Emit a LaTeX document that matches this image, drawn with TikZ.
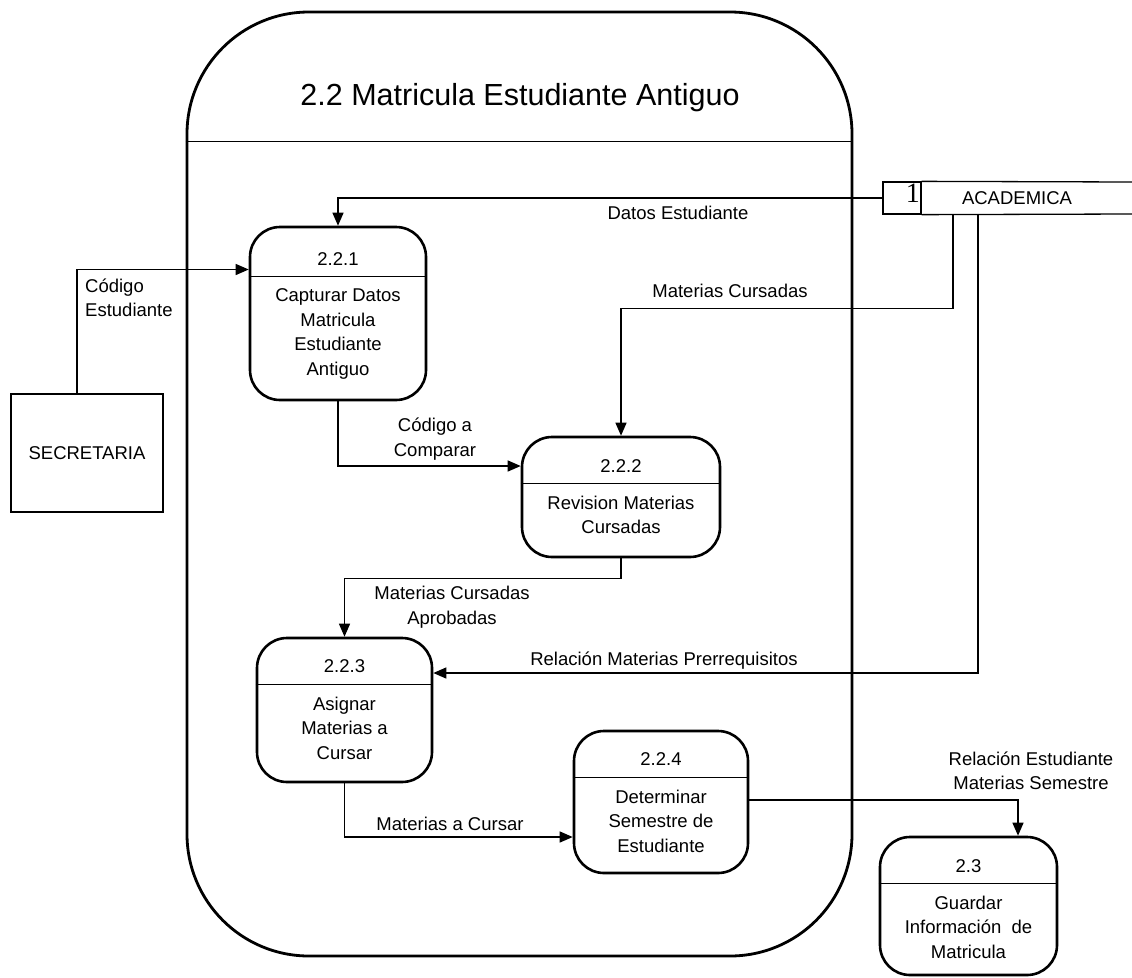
\documentclass[tikz,border=0pt]{standalone}
\usepackage{fontspec}
\setmainfont{Liberation Sans}
\newfontfamily\serifnum{Liberation Serif}
\usetikzlibrary{arrows.meta}
\begin{document}
\begin{tikzpicture}[
        x=1pt, y=-1pt,
        txt/.style={font=\fontsize{18.5pt}{24.5pt}\selectfont, inner sep=0pt, align=center},
        proc/.style={rectangle, draw, line width=2.6pt, rounded corners=30pt},
        ext/.style={rectangle, draw, line width=2.6pt, txt},
        frame/.style={rectangle, draw, line width=2.8pt, rounded corners=122pt, minimum width=665pt, minimum height=944pt},
        sep/.style={line width=1.2pt},
        line/.style={line width=1.3pt},
        flow/.style={-{Triangle[length=13pt,width=11pt]}, line width=1.3pt}
    ]
        \useasboundingbox (0,0) rectangle (1132,977);
        % proceso 2.2
        \node[frame] (frame) at (519.5,484) {};
        \node[txt, font=\fontsize{30.5pt}{36pt}\selectfont] (title) at (520,98) {2.2 Matricula Estudiante Antiguo};
        \draw[sep] ([yshift=-131pt]frame.north west) -- ([yshift=-131pt]frame.north east);
        % almacen y entidad externa
        \node[draw, line width=1.3pt, minimum width=38pt, minimum height=32pt, inner sep=0pt] (acad1) at (902,198) {};
        \node[font=\serifnum\fontsize{28pt}{28pt}\selectfont, anchor=north east, inner sep=0pt, xshift=-1.5pt, yshift=-2pt] (acadnum) at (acad1.north east) {1};
        \node[txt, minimum height=32pt] (acad) at (1017,198) {ACADEMICA};
        \draw[line] (acad1.north east) -- (1132,182) (acad1.south east) -- (1132,214);
        \node[ext, minimum width=152pt, minimum height=118pt] (sec) at (87,453) {SECRETARIA};
        % subprocesos
        \node[proc, minimum width=176pt, minimum height=173pt] (p1) at (338,313.5) {};
        \node[txt] (p1num) at ([yshift=-33pt]p1.north) {2.2.1};
        \draw[sep] ([yshift=-51pt]p1.north west) -- ([yshift=-51pt]p1.north east);
        \node[txt, anchor=north] (p1txt) at ([yshift=-63pt]p1.north) {Capturar Datos\\Matricula\\Estudiante\\Antiguo};
        \node[proc, minimum width=198pt, minimum height=120pt] (p2) at (621,497) {};
        \node[txt] (p2num) at ([yshift=-30pt]p2.north) {2.2.2};
        \draw[sep] ([yshift=-48pt]p2.north west) -- ([yshift=-48pt]p2.north east);
        \node[txt, anchor=north] (p2txt) at ([yshift=-60pt]p2.north) {Revision Materias\\Cursadas};
        \node[proc, minimum width=175pt, minimum height=144pt] (p3) at (344.5,710) {};
        \node[txt] (p3num) at ([yshift=-29pt]p3.north) {2.2.3};
        \draw[sep] ([yshift=-48pt]p3.north west) -- ([yshift=-48pt]p3.north east);
        \node[txt, anchor=north] (p3txt) at ([yshift=-60pt]p3.north) {Asignar\\Materias a\\Cursar};
        \node[proc, minimum width=174pt, minimum height=142pt] (p4) at (661,802) {};
        \node[txt] (p4num) at ([yshift=-29pt]p4.north) {2.2.4};
        \draw[sep] ([yshift=-48pt]p4.north west) -- ([yshift=-48pt]p4.north east);
        \node[txt, anchor=north] (p4txt) at ([yshift=-60pt]p4.north) {Determinar\\Semestre de\\Estudiante};
        \node[proc, minimum width=177pt, minimum height=138pt] (p5) at (968.5,906) {};
        \node[txt] (p5num) at ([yshift=-30pt]p5.north) {2.3};
        \draw[sep] ([yshift=-48pt]p5.north west) -- ([yshift=-48pt]p5.north east);
        \node[txt, anchor=north] (p5txt) at ([yshift=-60pt]p5.north) {Guardar\\Información~ de\\Matricula};
        % flujos
        \draw[flow] (acad1.west) -| (p1.north);
        \draw[flow] ([xshift=-10pt]sec.north) |- ([yshift=44pt]p1.west);
        \draw[flow] (p1.south) |- ([yshift=31pt]p2.west);
        \draw[flow] ([xshift=-64pt]acad.south) -- ++(0,94) -| (p2.north);
        \draw[flow] (p2.south) -- ++(0,20) -| (p3.north);
        \draw[flow] ([xshift=-39pt]acad.south) |- ([yshift=37pt]p3.east);
        \draw[flow] (p3.south) |- ([yshift=-35pt]p4.west);
        \draw[flow] ([yshift=2pt]p4.east) -| ([xshift=49.5pt]p5.north);
        % etiquetas
        \node[txt] (l1) at (678,213) {Datos Estudiante};
        \node[txt, anchor=west, align=left] (l2) at (85,298) {Código\\Estudiante};
        \node[txt] (l3) at (730,291) {Materias Cursadas};
        \node[txt] (l4) at (435,439) {Código a\\Comparar};
        \node[txt] (l5) at (452,607) {Materias Cursadas\\Aprobadas};
        \node[txt] (l6) at (664,661) {Relación Materias Prerrequisitos};
        \node[txt] (l7) at (450,824) {Materias a Cursar};
        \node[txt] (l8) at (1031,771) {Relación Estudiante\\Materias Semestre};
    \end{tikzpicture}
\end{document}
